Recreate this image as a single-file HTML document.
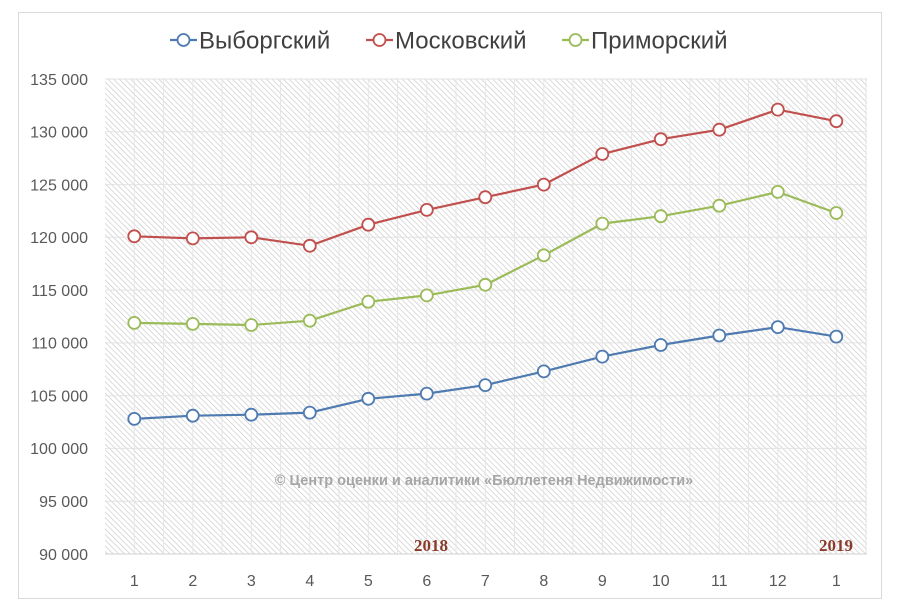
<!DOCTYPE html><html><head><meta charset="utf-8"><style>body{margin:0;background:#fff}svg{display:block;font-family:"Liberation Sans",sans-serif}</style></head><body>
<svg width="900" height="611" viewBox="0 0 900 611">
<defs><pattern id="h" width="4" height="4" patternUnits="userSpaceOnUse" patternTransform="rotate(-45)"><rect width="4" height="4" fill="#fff"/><line x1="0" y1="0" x2="0" y2="4" stroke="#c8c8c8" stroke-width="1.3"/></pattern></defs>
<rect x="18.5" y="12.5" width="863" height="586" fill="#fff" stroke="#d9d9d9"/>
<rect x="105" y="79" width="762" height="475" fill="url(#h)"/>
<g stroke="#e2e2e2" stroke-width="1">
<line x1="105" x2="867" y1="79" y2="79"/><line x1="105" x2="867" y1="131.8" y2="131.8"/><line x1="105" x2="867" y1="184.6" y2="184.6"/><line x1="105" x2="867" y1="237.3" y2="237.3"/><line x1="105" x2="867" y1="290.1" y2="290.1"/><line x1="105" x2="867" y1="342.9" y2="342.9"/><line x1="105" x2="867" y1="395.7" y2="395.7"/><line x1="105" x2="867" y1="448.4" y2="448.4"/><line x1="105" x2="867" y1="501.2" y2="501.2"/>
</g>
<g stroke="#e6e6e6">
<path d="M134.3 79V554M163.5 79V554M192.8 79V554M222 79V554M251.3 79V554M280.5 79V554M309.8 79V554M339 79V554M368.3 79V554M397.5 79V554M426.8 79V554M456 79V554M485.3 79V554M514.5 79V554M543.8 79V554M573 79V554M602.3 79V554M631.5 79V554M660.8 79V554M690 79V554M719.3 79V554M748.5 79V554M777.8 79V554M807 79V554M836.3 79V554M866 79V554"/>
</g>
<line x1="105" x2="867" y1="554" y2="554" stroke="#d0d0d0"/>
<g font-size="16" fill="#595959" text-anchor="end">
<text x="88" y="85">135 000</text><text x="88" y="137.5">130 000</text><text x="88" y="190.3">125 000</text><text x="88" y="243">120 000</text><text x="88" y="295.8">115 000</text><text x="88" y="348.6">110 000</text><text x="88" y="401.4">105 000</text><text x="88" y="454">100 000</text><text x="88" y="507">95 000</text><text x="88" y="560">90 000</text>
</g>
<g font-size="16" fill="#595959" text-anchor="middle">
<text x="134.3" y="586">1</text><text x="192.8" y="586">2</text><text x="251.3" y="586">3</text><text x="309.8" y="586">4</text><text x="368.3" y="586">5</text><text x="426.8" y="586">6</text><text x="485.3" y="586">7</text><text x="543.8" y="586">8</text><text x="602.3" y="586">9</text><text x="660.8" y="586">10</text><text x="719.3" y="586">11</text><text x="777.8" y="586">12</text><text x="836.3" y="586">1</text>
</g>
<text x="431" y="551" font-family="Liberation Serif,serif" font-weight="bold" font-size="17" fill="#8b3a2a" text-anchor="middle">2018</text>
<text x="836" y="551" font-family="Liberation Serif,serif" font-weight="bold" font-size="17" fill="#8b3a2a" text-anchor="middle">2019</text>
<text x="484" y="485" font-weight="bold" font-size="14.5" fill="#a6a6a6" text-anchor="middle">© Центр оценки и аналитики «Бюллетеня Недвижимости»</text>
<g fill="none" stroke-width="2.2">
<polyline stroke="#4f7bb0" points="134.3,418.9 192.8,415.7 251.3,414.7 309.8,412.6 368.3,398.8 426.8,393.6 485.3,385.1 543.8,371.4 602.3,356.6 660.8,345 719.3,335.5 777.8,327.1 836.3,336.6"/>
<polyline stroke="#c0504d" points="134.3,236.3 192.8,238.4 251.3,237.3 309.8,245.8 368.3,224.7 426.8,209.9 485.3,197.2 543.8,184.6 602.3,154 660.8,139.2 719.3,129.7 777.8,109.6 836.3,121.2"/>
<polyline stroke="#9bbb59" points="134.3,322.9 192.8,323.9 251.3,325 309.8,320.7 368.3,301.7 426.8,295.4 485.3,284.8 543.8,255.3 602.3,223.6 660.8,216.2 719.3,205.7 777.8,191.9 836.3,213"/>
</g>
<g fill="#fff" stroke-width="1.8">
<g stroke="#4f7bb0"><circle cx="134.3" cy="418.9" r="6"/><circle cx="192.8" cy="415.7" r="6"/><circle cx="251.3" cy="414.7" r="6"/><circle cx="309.8" cy="412.6" r="6"/><circle cx="368.3" cy="398.8" r="6"/><circle cx="426.8" cy="393.6" r="6"/><circle cx="485.3" cy="385.1" r="6"/><circle cx="543.8" cy="371.4" r="6"/><circle cx="602.3" cy="356.6" r="6"/><circle cx="660.8" cy="345" r="6"/><circle cx="719.3" cy="335.5" r="6"/><circle cx="777.8" cy="327.1" r="6"/><circle cx="836.3" cy="336.6" r="6"/></g>
<g stroke="#c0504d"><circle cx="134.3" cy="236.3" r="6"/><circle cx="192.8" cy="238.4" r="6"/><circle cx="251.3" cy="237.3" r="6"/><circle cx="309.8" cy="245.8" r="6"/><circle cx="368.3" cy="224.7" r="6"/><circle cx="426.8" cy="209.9" r="6"/><circle cx="485.3" cy="197.2" r="6"/><circle cx="543.8" cy="184.6" r="6"/><circle cx="602.3" cy="154" r="6"/><circle cx="660.8" cy="139.2" r="6"/><circle cx="719.3" cy="129.7" r="6"/><circle cx="777.8" cy="109.6" r="6"/><circle cx="836.3" cy="121.2" r="6"/></g>
<g stroke="#9bbb59"><circle cx="134.3" cy="322.9" r="6"/><circle cx="192.8" cy="323.9" r="6"/><circle cx="251.3" cy="325" r="6"/><circle cx="309.8" cy="320.7" r="6"/><circle cx="368.3" cy="301.7" r="6"/><circle cx="426.8" cy="295.4" r="6"/><circle cx="485.3" cy="284.8" r="6"/><circle cx="543.8" cy="255.3" r="6"/><circle cx="602.3" cy="223.6" r="6"/><circle cx="660.8" cy="216.2" r="6"/><circle cx="719.3" cy="205.7" r="6"/><circle cx="777.8" cy="191.9" r="6"/><circle cx="836.3" cy="213" r="6"/></g>
</g>
<g font-size="24" fill="#404040">
<line x1="170" x2="197" y1="40" y2="40" stroke="#4f7bb0" stroke-width="2.2"/><circle cx="183.5" cy="40" r="6" fill="#fff" stroke="#4f7bb0" stroke-width="1.8"/><text x="199" y="48.5">Выборгский</text>
<line x1="366" x2="393" y1="40" y2="40" stroke="#c0504d" stroke-width="2.2"/><circle cx="379.5" cy="40" r="6" fill="#fff" stroke="#c0504d" stroke-width="1.8"/><text x="395" y="48.5">Московский</text>
<line x1="562" x2="589" y1="40" y2="40" stroke="#9bbb59" stroke-width="2.2"/><circle cx="575.5" cy="40" r="6" fill="#fff" stroke="#9bbb59" stroke-width="1.8"/><text x="591" y="48.5">Приморский</text>
</g>
</svg></body></html>
